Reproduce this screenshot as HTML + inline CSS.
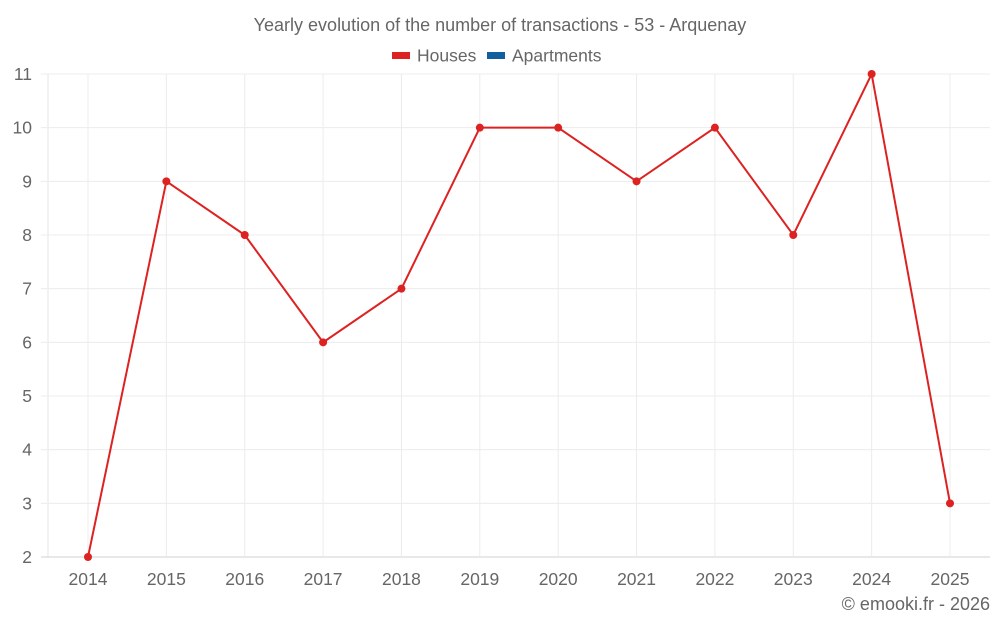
<!DOCTYPE html>
<html><head><meta charset="utf-8"><style>
body{margin:0;background:#fff;font-family:"Liberation Sans",sans-serif;}
svg{display:block}
</style></head><body>
<svg id="chart" width="1000" height="625">
<text x="500" y="31" text-anchor="middle" font-size="18" fill="#666">Yearly evolution of the number of transactions - 53 - Arquenay</text>
<g><rect x="392" y="52" width="18" height="7" fill="#dd2222"/><text x="417" y="61.5" font-size="17.5" fill="#666">Houses</text></g>
<g><rect x="487" y="52" width="18" height="7" fill="#11609e"/><text x="512" y="61.5" font-size="17.5" fill="#666">Apartments</text></g>
<g id="grid"></g><g id="series"></g>
<text x="990" y="610" text-anchor="end" font-size="18" fill="#666">© emooki.fr - 2026</text>
</svg>
<script>
const categories=[2014,2015,2016,2017,2018,2019,2020,2021,2022,2023,2024,2025];
const houses=[2,9,8,6,7,10,10,9,10,8,11,3];
const yTicks=[2,3,4,5,6,7,8,9,10,11];
const NS="http://www.w3.org/2000/svg";
const x0=88,x1=950,yTop=74,yBot=557,yMin=2,yMax=11,left=48,right=990;
const xs=i=>x0+i*(x1-x0)/(categories.length-1);
const ys=v=>yBot-(v-yMin)/(yMax-yMin)*(yBot-yTop);
const g=document.getElementById('grid'),s=document.getElementById('series');
function mk(tag,a,p){const e=document.createElementNS(NS,tag);for(const k in a)e.setAttribute(k,a[k]);p.appendChild(e);return e;}
const ax=mk('line',{x1:left,x2:left,y1:yTop,y2:yBot,stroke:'#e6e6e6'},g);


yTicks.forEach(v=>{
 const l=mk('line',{x1:41,x2:right,y1:ys(v),y2:ys(v),stroke:v===yMin?'#d0d0d0':'#ececec'},g);
 
 
 const t=mk('text',{x:32,y:ys(v)+6,'text-anchor':'end','font-size':17.5,fill:'#666'},g);
 t.textContent=v;
 
 
});
categories.forEach((c,i)=>{
 const l=mk('line',{x1:xs(i),x2:xs(i),y1:yTop,y2:yBot,stroke:'#ececec'},g);
 
 
 const t=mk('text',{x:xs(i),y:585,'text-anchor':'middle','font-size':17.5,fill:'#666'},g);
 t.textContent=c;
 
 
});
const pl=mk('polyline',{points:houses.map((v,i)=>xs(i)+','+ys(v)).join(' '),fill:'none',stroke:'#dd2222','stroke-width':2},s);


houses.forEach((v,i)=>{
 const c=mk('circle',{cx:xs(i),cy:ys(v),r:4,fill:'#dd2222'},s);
 
 
});
</script>
</body></html>
